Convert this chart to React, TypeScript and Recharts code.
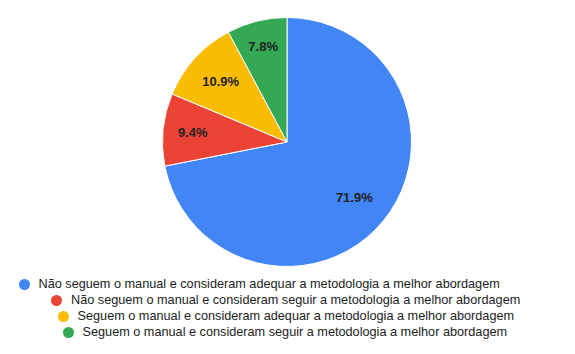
import React from "react";
import { PieChart, Pie, Cell, Legend } from "recharts";

const categories = [
  "Não seguem o manual e consideram adequar a metodologia a melhor abordagem",
  "Não seguem o manual e consideram seguir a metodologia a melhor abordagem",
  "Seguem o manual e consideram adequar a metodologia a melhor abordagem",
  "Seguem o manual e consideram seguir a metodologia a melhor abordagem",
];
const values = [71.9, 9.4, 10.9, 7.8];
const labels = ["71.9%", "9.4%", "10.9%", "7.8%"];

const COLORS = ["#4285F4", "#EA4335", "#FBBC04", "#34A853"];
const LABEL_RADIUS = [0.7, 0.76, 0.72, 0.79];
const LEGEND_INDENT = [18.5, 51, 57.5, 62.5];

const data = categories.map((name, i) => ({ name, value: values[i], label: labels[i] }));

const RADIAN = Math.PI / 180;

const renderLabel = (props: any) => {
  const { cx, cy, midAngle, outerRadius, index } = props;
  const r = outerRadius * LABEL_RADIUS[index];
  const x = cx + r * Math.cos(-midAngle * RADIAN);
  const y = cy + r * Math.sin(-midAngle * RADIAN);
  return (
    <text
      x={x}
      y={y}
      fill="#222222"
      textAnchor="middle"
      dominantBaseline="central"
      fontFamily="Arial, 'Liberation Sans', sans-serif"
      fontSize={13}
      fontWeight="bold"
    >
      {labels[index]}
    </text>
  );
};

const renderLegend = () => (
  <div style={{ fontFamily: "Arial, 'Liberation Sans', sans-serif", fontSize: 12.7, color: "#222222" }}>
    {data.map((d, i) => (
      <div
        key={d.name}
        style={{ display: "flex", alignItems: "center", height: 16, paddingLeft: LEGEND_INDENT[i] }}
      >
        <span
          style={{
            display: "inline-block",
            flex: "none",
            width: 11,
            height: 11,
            borderRadius: "50%",
            background: COLORS[i],
            marginRight: 9,
          }}
        />
        <span style={{ whiteSpace: "nowrap" }}>{d.name}</span>
      </div>
    ))}
  </div>
);

export default function App() {
  return (
    <div style={{ position: "absolute", left: 0, top: 0, width: 575, height: 354, background: "#fff" }}>
      <PieChart width={575} height={354} margin={{ top: 0, right: 0, bottom: 0, left: 0 }}>
        <Pie
          data={data}
          dataKey="value"
          nameKey="name"
          cx={287}
          cy={142}
          outerRadius={124.5}
          startAngle={90}
          endAngle={-270}
          stroke="#ffffff"
          strokeWidth={1}
          label={renderLabel}
          labelLine={false}
          isAnimationActive={false}
        >
          {data.map((d, i) => (
            <Cell key={d.name} fill={COLORS[i]} />
          ))}
        </Pie>
        <Legend
          content={renderLegend}
          wrapperStyle={{ position: "absolute", left: 0, top: 276, width: 575 }}
        />
      </PieChart>
    </div>
  );
}
